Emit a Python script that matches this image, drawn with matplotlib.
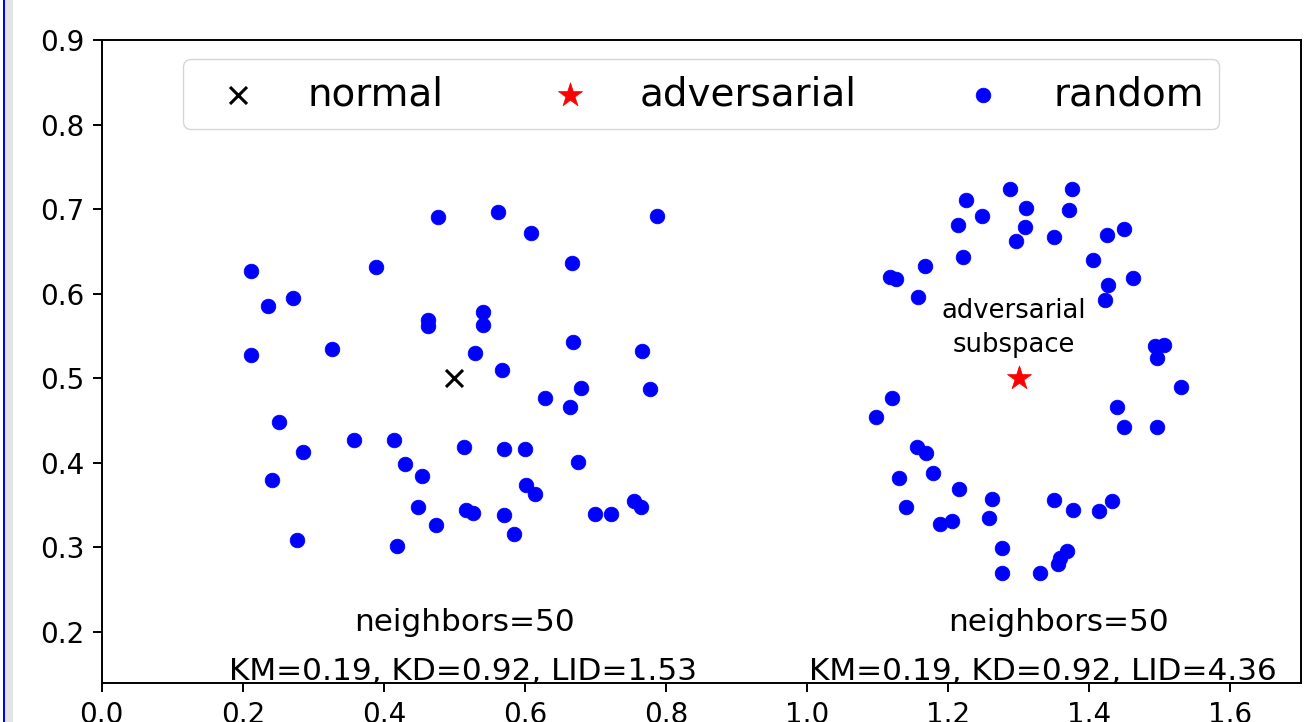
import matplotlib
matplotlib.use("Agg")
import matplotlib.pyplot as plt
from matplotlib.patches import Rectangle

# ---- data ----
normal_x = [0.5]
normal_y = [0.5]
adv_x = [1.3]
adv_y = [0.5]

left_x = [0.212, 0.236, 0.271, 0.211, 0.326, 0.389, 0.477, 0.562, 0.609, 0.667,
          0.787, 0.462, 0.463, 0.541, 0.540, 0.529, 0.567, 0.668, 0.766, 0.680,
          0.778, 0.629, 0.664, 0.252, 0.286, 0.242, 0.358, 0.415, 0.430, 0.454,
          0.513, 0.571, 0.600, 0.602, 0.675, 0.755, 0.764, 0.699, 0.722, 0.448,
          0.516, 0.526, 0.570, 0.474, 0.584, 0.277, 0.418, 0.614]
left_y = [0.627, 0.585, 0.595, 0.527, 0.535, 0.632, 0.691, 0.696, 0.672, 0.636,
          0.692, 0.569, 0.562, 0.578, 0.563, 0.530, 0.510, 0.543, 0.532, 0.488,
          0.487, 0.476, 0.466, 0.448, 0.413, 0.379, 0.427, 0.427, 0.398, 0.384,
          0.418, 0.416, 0.416, 0.374, 0.401, 0.355, 0.348, 0.339, 0.339, 0.348,
          0.344, 0.340, 0.338, 0.326, 0.316, 0.308, 0.302, 0.363]

right_x = [1.288, 1.376, 1.225, 1.311, 1.371, 1.248, 1.214, 1.309, 1.297, 1.350,
           1.425, 1.450, 1.221, 1.405, 1.168, 1.117, 1.126, 1.462, 1.157, 1.427,
           1.423, 1.494, 1.506, 1.496, 1.530, 1.121, 1.098, 1.440, 1.450, 1.496,
           1.156, 1.169, 1.131, 1.178, 1.215, 1.262, 1.350, 1.432, 1.414, 1.141,
           1.188, 1.206, 1.258, 1.377, 1.277, 1.369, 1.359, 1.356, 1.277, 1.330]
right_y = [0.724, 0.724, 0.711, 0.701, 0.699, 0.692, 0.681, 0.679, 0.662, 0.667,
           0.669, 0.676, 0.643, 0.640, 0.633, 0.620, 0.617, 0.619, 0.596, 0.610,
           0.592, 0.538, 0.539, 0.524, 0.489, 0.477, 0.454, 0.466, 0.442, 0.442,
           0.419, 0.412, 0.382, 0.388, 0.369, 0.357, 0.356, 0.355, 0.343, 0.348,
           0.328, 0.331, 0.335, 0.344, 0.299, 0.295, 0.287, 0.280, 0.270, 0.270]

legend_labels = ["normal", "adversarial", "random"]
neighbors_text = "neighbors=50"
metrics_left = "KM=0.19, KD=0.92, LID=1.53"
metrics_right = "KM=0.19, KD=0.92, LID=4.36"
x_ticks = [0.0, 0.2, 0.4, 0.6, 0.8, 1.0, 1.2, 1.4, 1.6]
y_ticks = [0.2, 0.3, 0.4, 0.5, 0.6, 0.7, 0.8, 0.9]

plt.rcParams['font.family'] = ['DejaVu Sans']

fig = plt.figure(figsize=(13.15, 7.22), dpi=100)
ax = fig.add_axes([101.7 / 1315, 1 - 683.3 / 722, (1300.7 - 101.7) / 1315, (683.3 - 40) / 722])

ax.scatter(normal_x, normal_y, marker='x', c='k', s=150, linewidths=2.2, label=legend_labels[0], zorder=3)
ax.scatter(adv_x, adv_y, marker='*', c='r', s=330, linewidths=0.5, label=legend_labels[1], zorder=3)
ax.scatter(left_x + right_x, left_y + right_y, marker='o', c='b', s=110, linewidths=0.6,
           edgecolors='b', label=legend_labels[2], zorder=2)

ax.set_xlim(0.0, 1.7)
ax.set_ylim(0.139, 0.9)
ax.set_xticks(x_ticks)
ax.set_yticks(y_ticks)
ax.tick_params(labelsize=20, length=6.5, width=1.4, pad=6)
for s in ax.spines.values():
    s.set_linewidth(1.4)

fs = 22.4
ax.text(0.515, 0.2008, neighbors_text, ha='center', va='baseline', fontsize=fs)
ax.text(0.5125, 0.1428, metrics_left, ha='center', va='baseline', fontsize=fs)
ax.text(1.357, 0.2008, neighbors_text, ha='center', va='baseline', fontsize=fs)
ax.text(1.334, 0.1428, metrics_right, ha='center', va='baseline', fontsize=fs)

ax.text(1.293, 0.5708, "adversarial", ha='center', va='baseline', fontsize=18.6)
ax.text(1.293, 0.5312, "subspace", ha='center', va='baseline', fontsize=18.6)

ax.legend(loc='upper center', ncol=3, fontsize=28, columnspacing=2.25, handletextpad=0.8,
          borderaxespad=0.5, borderpad=0.4)

# viewer edge artefact at left
fig.patches.append(Rectangle((5.3 / 1315, 0), 7.4 / 1315, 1, transform=fig.transFigure,
                             facecolor='#e4e4e4', edgecolor='none'))
fig.patches.append(Rectangle((3.3 / 1315, 0), 2.0 / 1315, 1, transform=fig.transFigure,
                             facecolor='#0000ff', edgecolor='none'))

fig.savefig("out.png", dpi=100)
